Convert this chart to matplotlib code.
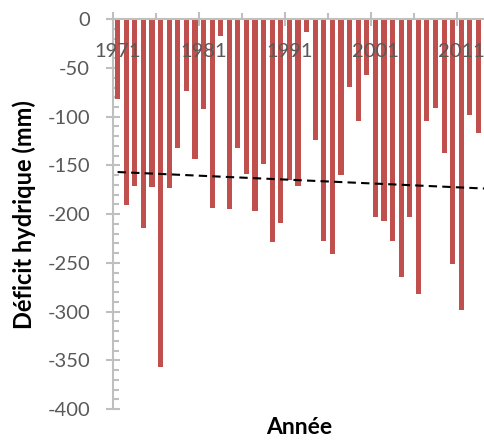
import numpy as np
import matplotlib
matplotlib.use("Agg")
import matplotlib.pyplot as plt
from matplotlib.ticker import MultipleLocator, FixedLocator, NullFormatter, FuncFormatter

plt.rcParams["font.family"] = ["Lato", "DejaVu Sans"]
plt.rcParams["axes.unicode_minus"] = False

# Déficit hydrique annuel (mm)
annees = list(range(1971, 2014))
deficit = [-82, -191, -171, -214, -172, -357, -173, -132, -74, -143,
           -92, -194, -17, -195, -132, -159, -197, -149, -229, -209,
           -165, -171, -13, -124, -228, -241, -160, -69, -104, -57,
           -203, -207, -228, -265, -203, -282, -104, -91, -137, -251,
           -298, -98, -117]
annees_lab = [1971, 1981, 1991, 2001, 2011]

ROUGE = "#C0504D"
GRIS = "#BFBFBF"
TXT = "#595959"

fig = plt.figure(figsize=(4.85, 4.43), dpi=100)
ax = fig.add_axes([0.2336, 0.0767, 0.7664, 0.8797])

ax.bar(annees, deficit, width=0.6, color=ROUGE, edgecolor="none", zorder=2)

# tendance linéaire (comme la courbe de tendance d'Excel)
a, b = np.polyfit(annees, deficit, 1)
xt = np.array([annees[0], annees[-1] + 1])
ax.plot(xt, a * xt + b, color="black", ls=(0, (4, 2.5)), lw=1.5, zorder=3)

ax.set_ylim(-400, 0)
ax.set_xlim(annees[0] - 0.5, 2013.76)

# axe des x en haut (à y = 0)
ax.xaxis.tick_top()
for s in ("bottom", "right"):
    ax.spines[s].set_visible(False)
for s in ("top", "left"):
    ax.spines[s].set_color(GRIS)
    ax.spines[s].set_linewidth(1.5)

ax.xaxis.set_major_locator(FixedLocator([1970.5, 1980.5, 1990.5, 2000.5, 2010.5]))
ax.xaxis.set_minor_locator(FixedLocator([1975.5, 1985.5, 1995.5, 2005.5]))
ax.xaxis.set_major_formatter(NullFormatter())
ax.tick_params(axis="x", which="major", direction="inout", length=10,
               width=1.5, color=GRIS)
ax.tick_params(axis="x", which="minor", direction="out", length=4.5,
               width=1.5, color=GRIS)
for yr in annees_lab:
    ax.annotate(str(yr), xy=(yr, 0), xytext=(0, -23), textcoords="offset points",
                ha="center", va="center", fontsize=14.5, color=TXT, zorder=4)

ax.yaxis.set_major_locator(MultipleLocator(50))
ax.yaxis.set_minor_locator(MultipleLocator(10))
ax.tick_params(axis="y", which="major", direction="inout", length=9.5,
               width=1.5, color=GRIS, labelsize=14.5, labelcolor=TXT, pad=12)
ax.tick_params(axis="y", which="minor", direction="in", length=4.5,
               width=1.5, color=GRIS)
ax.yaxis.set_major_formatter(FuncFormatter(lambda v, p: f"{v:.0f}"))

ax.set_ylabel("Déficit hydrique (mm)", fontsize=17, fontweight="bold", labelpad=8)
ax.set_xlabel("Année", fontsize=16.5, fontweight="bold", labelpad=6)

fig.savefig("out.png", dpi=100)
